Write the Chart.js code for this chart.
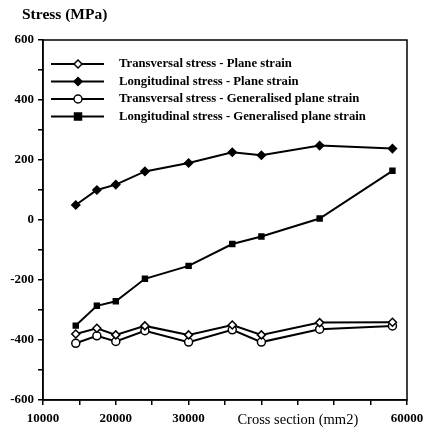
<!DOCTYPE html>
<html>
<head>
<meta charset="utf-8">
<script src="https://cdn.jsdelivr.net/npm/chart.js"></script>
<style>
  html, body { margin: 0; padding: 0; background: #fff; }
  #wrap { width: 424px; height: 431px; }
</style>
</head>
<body>
<div id="wrap"><canvas id="stressChart" width="424" height="431"></canvas></div>
<script>
// cross sections (mm2)
const sections = [14500, 17400, 20000, 24000, 30000, 36000, 40000, 48000, 58000];
// stress values (MPa)
const transPlane = [-380, -361, -383, -353, -383, -350, -383, -342, -341];
const longPlane = [50, 100, 118, 162, 190, 226, 216, 248, 238];
const transGen = [-411, -386, -405, -369, -407, -366, -407, -364, -353];
const longGen = [-352, -286, -271, -196, -153, -80, -55, 5, 164];
const xLabels = [10000, 20000, 30000, 60000];
const xTitle = 'Cross section (mm2)';
const yTitle = 'Stress (MPa)';

const serif = '"Liberation Serif", "DejaVu Serif", serif';

function pts(ys) {
    return sections.map((x, i) => ({ x: x, y: ys[i] }));
}

function series(label, ys, style, open) {
    return {
        label: label,
        data: pts(ys),
        borderColor: '#000',
        borderWidth: 2,
        pointStyle: style,
        pointRadius: style === 'rect' ? 3.5 : 4,
        pointBackgroundColor: open ? '#fff' : '#000',
        pointBorderColor: '#000',
        pointBorderWidth: 1.5,
        tension: 0
    };
}

// legend drawn inside the plot, plus frame and axis title
const extras = {
    id: 'extras',
    afterDraw(chart) {
        const ctx = chart.ctx;
        const a = chart.chartArea;
        ctx.save();
        ctx.strokeStyle = '#000';
        ctx.lineWidth = 1.5;
        ctx.strokeRect(a.left, a.top, a.right - a.left, a.bottom - a.top);

        ctx.fillStyle = '#000';
        ctx.font = 'bold 15.5px ' + serif;
        ctx.textBaseline = 'middle';
        ctx.textAlign = 'left';
        ctx.fillText(yTitle, 22, 15);

        ctx.font = 'bold 12.7px ' + serif;
        chart.data.datasets.forEach((ds, i) => {
            const y = 64 + i * 17.5;
            ctx.beginPath();
            ctx.lineWidth = 2;
            ctx.moveTo(51, y);
            ctx.lineTo(104, y);
            ctx.stroke();
            const r = ds.pointStyle === 'rect' ? 3.5 : 4;
            ctx.fillStyle = ds.pointBackgroundColor;
            ctx.lineWidth = 1.5;
            ctx.beginPath();
            if (ds.pointStyle === 'rectRot') {
                ctx.moveTo(78, y - r); ctx.lineTo(78 + r, y); ctx.lineTo(78, y + r); ctx.lineTo(78 - r, y);
            } else if (ds.pointStyle === 'rect') {
                ctx.rect(78 - r, y - r, 2 * r, 2 * r);
            } else {
                ctx.arc(78, y, r, 0, Math.PI * 2);
            }
            ctx.closePath();
            ctx.fill();
            ctx.stroke();
            ctx.fillStyle = '#000';
            ctx.fillText(ds.label, 119, y);
        });
        ctx.restore();
    }
};

new Chart(document.getElementById('stressChart').getContext('2d'), {
    type: 'line',
    data: {
        datasets: [
            series('Transversal stress - Plane strain', transPlane, 'rectRot', true),
            series('Longitudinal stress - Plane strain', longPlane, 'rectRot', false),
            series('Transversal stress - Generalised plane strain', transGen, 'circle', true),
            series('Longitudinal stress - Generalised plane strain', longGen, 'rect', false)
        ]
    },
    options: {
        responsive: false,
        animation: false,
        layout: { padding: { top: 40, right: 17, left: 0, bottom: 0 } },
        plugins: { legend: { display: false }, tooltip: { enabled: false } },
        scales: {
            x: {
                type: 'linear',
                min: 10000,
                max: 60000,
                afterFit: s => { s.height = 31; s.paddingLeft = 0; s.paddingRight = 0; },
                afterBuildTicks: s => {
                    s.ticks = [];
                    for (let v = 10000; v <= 60000; v += 5000) s.ticks.push({ value: v });
                },
                grid: { drawOnChartArea: false, tickLength: 5, color: '#000', lineWidth: 1.5 },
                border: { color: '#000', width: 1.5 },
                ticks: {
                    autoSkip: false,
                    maxRotation: 0,
                    padding: 6,
                    color: '#000',
                    font: c => (c.tick && c.tick.value === 45000)
                        ? { family: serif, size: 14.5 }
                        : { family: serif, size: 13, weight: 'bold' },
                    callback: v => v === 45000 ? xTitle : (xLabels.includes(v) ? String(v) : '')
                }
            },
            y: {
                min: -600,
                max: 600,
                afterFit: s => { s.width = 43; s.paddingTop = 0; s.paddingBottom = 0; },
                grid: { drawOnChartArea: false, tickLength: 5, color: '#000', lineWidth: 1.5 },
                border: { color: '#000', width: 1.5 },
                ticks: {
                    stepSize: 100,
                    padding: 4,
                    color: '#000',
                    font: { family: serif, size: 13, weight: 'bold' },
                    callback: v => v % 200 === 0 ? String(v) : ''
                }
            }
        }
    },
    plugins: [extras]
});
</script>
</body>
</html>
